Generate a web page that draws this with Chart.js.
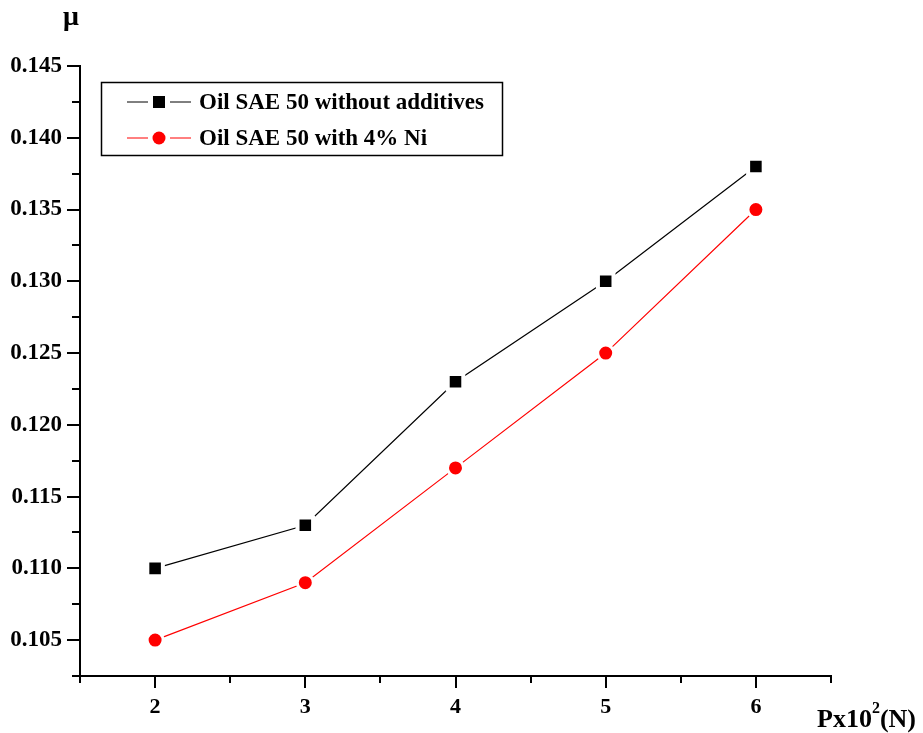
<!DOCTYPE html>
<html>
<head>
<meta charset="utf-8">
<script src="https://cdn.jsdelivr.net/npm/chart.js@4/dist/chart.umd.min.js"></script>
<style>
  body { margin: 0; background: #fff; }
  canvas { display: block; }
</style>
</head>
<body>
<canvas id="muChart" width="923" height="733"></canvas>
<script>
// load in N x 10^2 and friction coefficient for both oils
const cargas = [2, 3, 4, 5, 6];
const semAditivo = [0.110, 0.113, 0.123, 0.130, 0.138];
const comNi = [0.105, 0.109, 0.117, 0.125, 0.135];
const rotulos = ['Oil SAE 50 without additives', 'Oil SAE 50 with 4% Ni'];

const FONTE = '"Liberation Serif", "Times New Roman", serif';

const ehMaior = (v, passo) => Math.abs(v / passo - Math.round(v / passo)) < 1e-6;

// axis tick marks (major + minor, pointing outward), titles and boxed legend
const extras = {
    id: 'extras',
    afterDraw(chart) {
        const ctx = chart.ctx;
        const { x, y } = chart.scales;
        const area = chart.chartArea;
        ctx.save();
        ctx.strokeStyle = '#000';
        ctx.lineWidth = 2;
        ctx.beginPath();
        y.ticks.forEach(t => {
            const py = Math.round(y.getPixelForValue(t.value));
            const len = ehMaior(t.value, 0.005) ? 13 : 8;
            ctx.moveTo(area.left, py);
            ctx.lineTo(area.left - len, py);
        });
        x.ticks.forEach(t => {
            const px = Math.round(x.getPixelForValue(t.value));
            const len = ehMaior(t.value, 1) ? 12 : 7;
            ctx.moveTo(px, area.bottom);
            ctx.lineTo(px, area.bottom + len);
        });
        ctx.stroke();

        // axis titles
        ctx.fillStyle = '#000';
        ctx.textBaseline = 'alphabetic';
        ctx.font = 'bold 28px ' + FONTE;
        ctx.textAlign = 'center';
        ctx.fillText('μ', 71, 25);
        ctx.textAlign = 'left';
        ctx.font = 'bold 26px ' + FONTE;
        let tx = 817;
        ctx.fillText('Px10', tx, 727);
        tx += ctx.measureText('Px10').width;
        ctx.font = 'bold 16px ' + FONTE;
        ctx.fillText('2', tx, 713);
        tx += ctx.measureText('2').width;
        ctx.font = 'bold 26px ' + FONTE;
        ctx.fillText('(N)', tx, 727);

        // legend box
        ctx.lineWidth = 1.5;
        ctx.strokeRect(101.5, 82.5, 401, 73);
        ctx.font = 'bold 23px ' + FONTE;
        ctx.textBaseline = 'middle';
        chart.data.datasets.forEach((ds, i) => {
            const ly = 102 + i * 36;
            ctx.strokeStyle = ds.borderColor;
            ctx.lineWidth = 1;
            ctx.beginPath();
            ctx.moveTo(127, ly); ctx.lineTo(148, ly);
            ctx.moveTo(170, ly); ctx.lineTo(191, ly);
            ctx.stroke();
            ctx.fillStyle = ds.pointBackgroundColor;
            if (ds.pointStyle === 'rect') {
                ctx.fillRect(153, ly - 6, 12, 12);
            } else {
                ctx.beginPath();
                ctx.arc(159, ly, 6.5, 0, Math.PI * 2);
                ctx.fill();
            }
            ctx.fillStyle = '#000';
            ctx.fillText(ds.label, 199, ly + 1);
        });
        ctx.restore();
    }
};

new Chart(document.getElementById('muChart').getContext('2d'), {
    type: 'line',
    data: {
        datasets: [
            {
                label: rotulos[0],
                data: cargas.map((c, i) => ({ x: c, y: semAditivo[i] })),
                borderColor: '#000',
                borderWidth: 1.2,
                pointStyle: 'rect',
                pointRadius: 11,
                pointBackgroundColor: '#000',
                pointBorderColor: '#fff',
                pointBorderWidth: 4,
            },
            {
                label: rotulos[1],
                data: cargas.map((c, i) => ({ x: c, y: comNi[i] })),
                borderColor: '#ff0000',
                borderWidth: 1.2,
                pointStyle: 'circle',
                pointRadius: 8,
                pointBackgroundColor: '#ff0000',
                pointBorderColor: '#fff',
                pointBorderWidth: 3,
            },
        ],
    },
    options: {
        responsive: false,
        animation: false,
        events: [],
        layout: { padding: { top: 66, right: 92, left: 0, bottom: 0 } },
        plugins: {
            legend: { display: false },
            title: { display: false },
            tooltip: { enabled: false },
        },
        scales: {
            x: {
                type: 'linear',
                min: 1.5,
                max: 6.5,
                afterFit: s => { s.height = 733 - 676; },
                grid: { display: false, drawTicks: false },
                border: { display: true, color: '#000', width: 2 },
                ticks: {
                    stepSize: 0.5,
                    padding: 18,
                    color: '#000',
                    font: { family: FONTE, size: 22, weight: 'bold' },
                    callback: v => ehMaior(v, 1) ? String(Math.round(v)) : '',
                },
            },
            y: {
                min: 0.1025,
                max: 0.145,
                afterFit: s => { s.width = 80; },
                grid: { display: false, drawTicks: false },
                border: { display: true, color: '#000', width: 2 },
                ticks: {
                    stepSize: 0.0025,
                    padding: 18,
                    color: '#000',
                    font: { family: FONTE, size: 23, weight: 'bold' },
                    callback: v => ehMaior(v, 0.005) ? v.toFixed(3) : '',
                },
            },
        },
    },
    plugins: [extras],
});
</script>
</body>
</html>
